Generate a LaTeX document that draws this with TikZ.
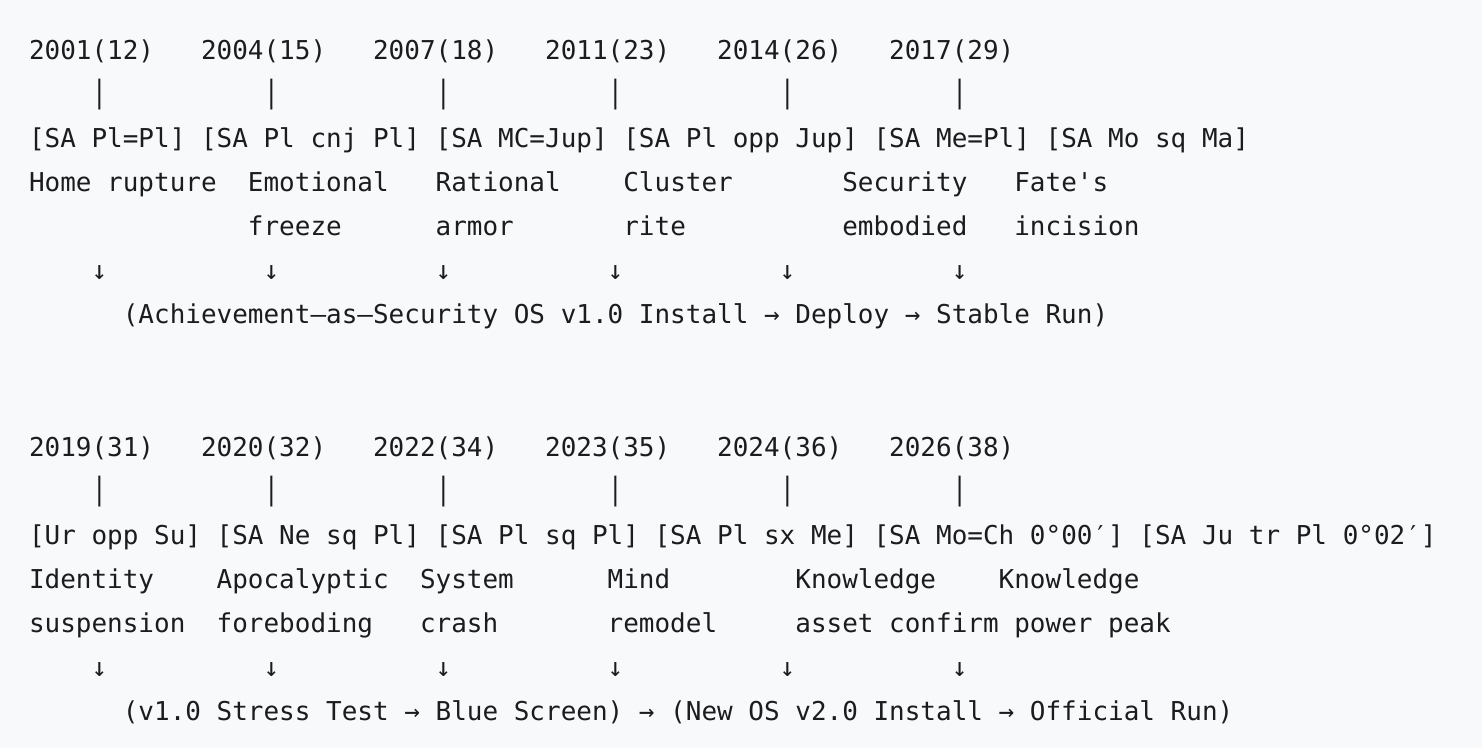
\documentclass[tikz,border=0pt]{standalone}
\usepackage{fontspec}
\newfontfamily\monofont{DejaVu Sans Mono}
\definecolor{bg}{HTML}{F8F9FB}
\definecolor{ink}{HTML}{1C1C1E}
\tikzset{txt/.style={inner sep=0pt, outer sep=0pt, anchor=base west, text=ink,
  font=\monofont\fontsize{12.99}{15}\selectfont}}
% \itm{name}{column}{line}{text}
\newcommand\itm[4]{\node[txt] (#1) at ({29+15.64*(#2)},{60+44*(#3)}) {#4};}
\begin{document}
\begin{tikzpicture}[x=0.5pt,y=-0.5pt]
\fill[bg] (0,0) rectangle (1482,748);
\useasboundingbox (0,0) rectangle (1482,748);
% ---------- block 1 ----------
\itm{ya}{0}{0}{2001(12)}
\itm{yb}{11}{0}{2004(15)}
\itm{yc}{22}{0}{2007(18)}
\itm{yd}{33}{0}{2011(23)}
\itm{ye}{44}{0}{2014(26)}
\itm{yf}{55}{0}{2017(29)}
\itm{ba}{4}{1}{│}
\itm{bb}{15}{1}{│}
\itm{bc}{26}{1}{│}
\itm{bd}{37}{1}{│}
\itm{be}{48}{1}{│}
\itm{bf}{59}{1}{│}
\itm{sa}{0}{2}{[SA Pl=Pl]}
\itm{sb}{11}{2}{[SA Pl cnj Pl]}
\itm{sc}{26}{2}{[SA MC=Jup]}
\itm{sd}{38}{2}{[SA Pl opp Jup]}
\itm{se}{54}{2}{[SA Me=Pl]}
\itm{sf}{65}{2}{[SA Mo sq Ma]}
\itm{la}{0}{3}{Home rupture}
\itm{lb}{14}{3}{Emotional}
\itm{lc}{26}{3}{Rational}
\itm{ld}{38}{3}{Cluster}
\itm{le}{52}{3}{Security}
\itm{lf}{63}{3}{Fate's}
\itm{mb}{14}{4}{freeze}
\itm{mc}{26}{4}{armor}
\itm{md}{38}{4}{rite}
\itm{me}{52}{4}{embodied}
\itm{mf}{63}{4}{incision}
\itm{aa}{4}{5}{↓}
\itm{ab}{15}{5}{↓}
\itm{ac}{26}{5}{↓}
\itm{ad}{37}{5}{↓}
\itm{ae}{48}{5}{↓}
\itm{af}{59}{5}{↓}
\itm{sum1}{6}{6}{(Achievement–as–Security OS v1.0 Install → Deploy → Stable Run)}
% ---------- block 2 ----------
\itm{Ya}{0}{9}{2019(31)}
\itm{Yb}{11}{9}{2020(32)}
\itm{Yc}{22}{9}{2022(34)}
\itm{Yd}{33}{9}{2023(35)}
\itm{Ye}{44}{9}{2024(36)}
\itm{Yf}{55}{9}{2026(38)}
\itm{Ba}{4}{10}{│}
\itm{Bb}{15}{10}{│}
\itm{Bc}{26}{10}{│}
\itm{Bd}{37}{10}{│}
\itm{Be}{48}{10}{│}
\itm{Bf}{59}{10}{│}
\itm{Sa}{0}{11}{[Ur opp Su]}
\itm{Sb}{12}{11}{[SA Ne sq Pl]}
\itm{Sc}{26}{11}{[SA Pl sq Pl]}
\itm{Sd}{40}{11}{[SA Pl sx Me]}
\itm{Se}{54}{11}{[SA Mo=Ch 0°00′]}
\itm{Sf}{71}{11}{[SA Ju tr Pl 0°02′]}
\itm{La}{0}{12}{Identity}
\itm{Lb}{12}{12}{Apocalyptic}
\itm{Lc}{25}{12}{System}
\itm{Ld}{37}{12}{Mind}
\itm{Le}{49}{12}{Knowledge}
\itm{Lf}{62}{12}{Knowledge}
\itm{Ma}{0}{13}{suspension}
\itm{Mb}{12}{13}{foreboding}
\itm{Mc}{25}{13}{crash}
\itm{Md}{37}{13}{remodel}
\itm{Me}{49}{13}{asset confirm power peak}
\itm{Aa}{4}{14}{↓}
\itm{Ab}{15}{14}{↓}
\itm{Ac}{26}{14}{↓}
\itm{Ad}{37}{14}{↓}
\itm{Ae}{48}{14}{↓}
\itm{Af}{59}{14}{↓}
\itm{sum2}{6}{15}{(v1.0 Stress Test → Blue Screen) → (New OS v2.0 Install → Official Run)}
\end{tikzpicture}
\end{document}
